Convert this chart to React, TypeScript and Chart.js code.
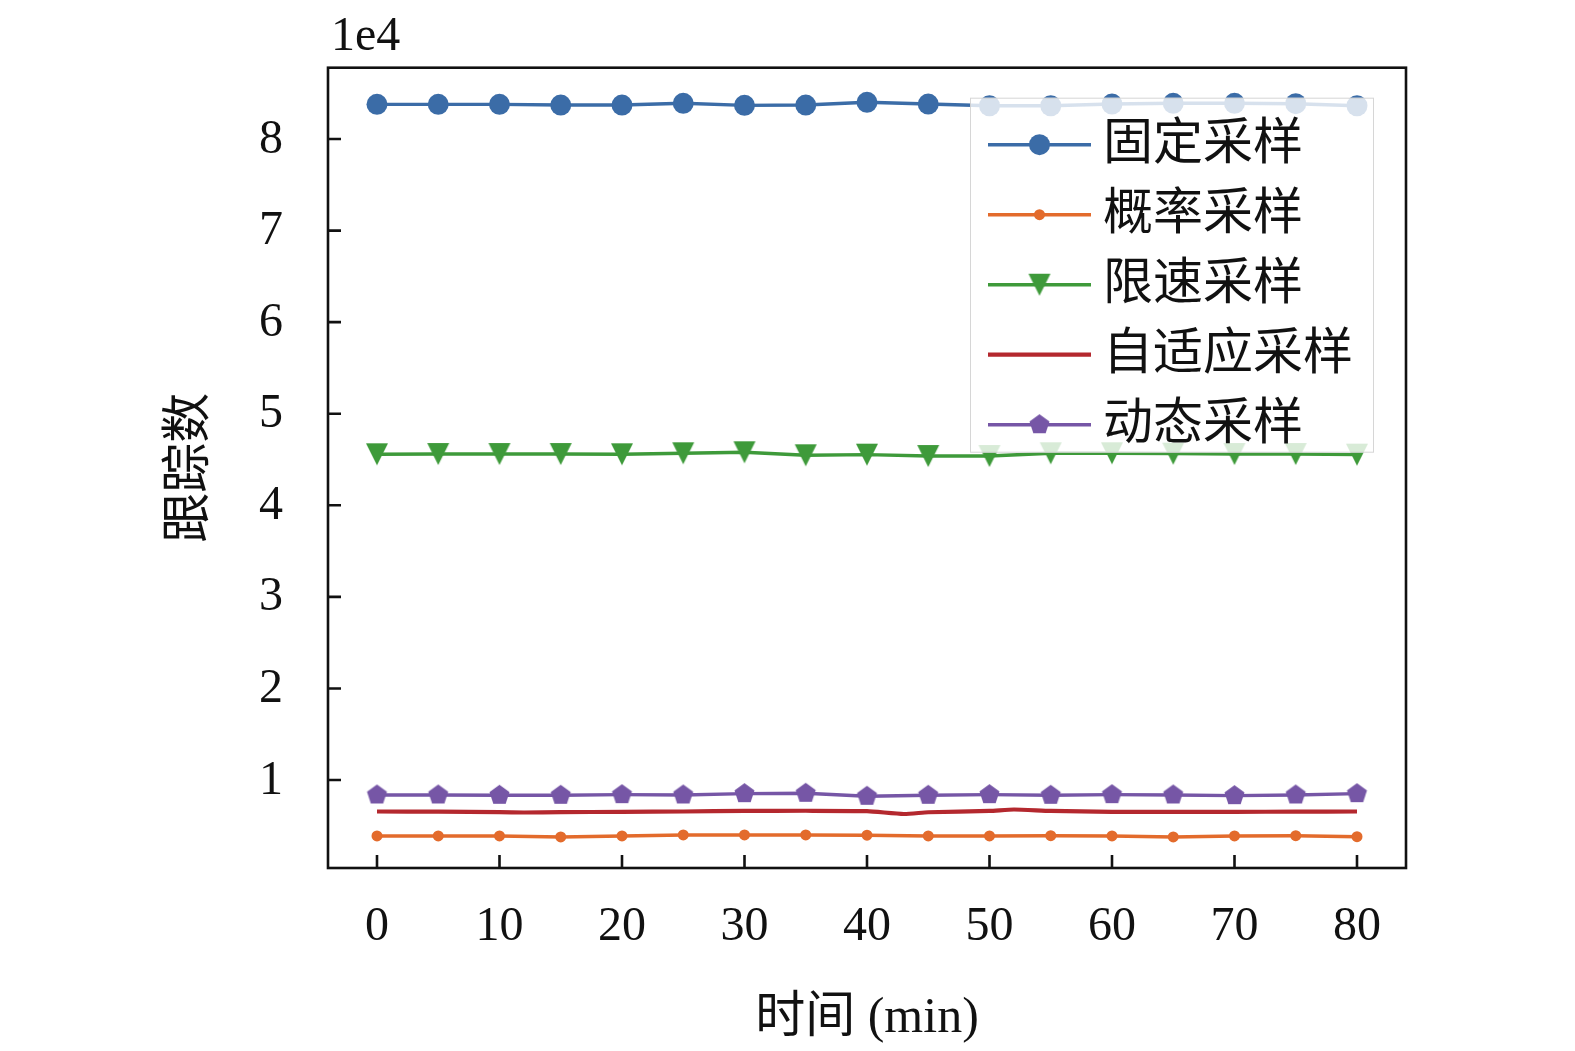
import React, { useEffect, useRef } from 'react';
import { Chart, registerables } from 'chart.js';

Chart.register(...registerables);

// ---- data ----
const times = [0, 5, 10, 15, 20, 25, 30, 35, 40, 45, 50, 55, 60, 65, 70, 75, 80];
const fixedSampling = [83790, 83790, 83790, 83710, 83710, 83900, 83680, 83710, 84010, 83820, 83640, 83640, 83820, 83900, 83900, 83860, 83640];
const probSampling = [3890, 3890, 3890, 3780, 3890, 4000, 4000, 4000, 3970, 3890, 3890, 3920, 3890, 3780, 3890, 3920, 3810];
const rateLimitSampling = [45570, 45600, 45600, 45600, 45570, 45680, 45790, 45460, 45530, 45380, 45380, 45680, 45680, 45640, 45600, 45600, 45530];
const adaptiveTimes = [0, 5, 10, 12, 15, 20, 25, 30, 35, 40, 43, 45, 50, 52, 55, 60, 65, 70, 75, 80];
const adaptiveSampling = [6560, 6540, 6490, 6450, 6490, 6520, 6560, 6620, 6640, 6600, 6290, 6480, 6620, 6780, 6620, 6530, 6510, 6530, 6540, 6560];
const dynamicSampling = [8365, 8365, 8330, 8330, 8400, 8365, 8510, 8550, 8220, 8330, 8400, 8330, 8400, 8365, 8290, 8365, 8510];

const seriesNames = ['固定采样', '概率采样', '限速采样', '自适应采样', '动态采样'];
const seriesColors = ['#3b6ca7', '#e36b2c', '#3e9a3a', '#b4282e', '#7656a6'];
const xTickValues = [0, 10, 20, 30, 40, 50, 60, 70, 80];
const xTickLabels = ['0', '10', '20', '30', '40', '50', '60', '70', '80'];
const yTickValues = [10000, 20000, 30000, 40000, 50000, 60000, 70000, 80000];
const yTickLabels = ['1', '2', '3', '4', '5', '6', '7', '8'];
const xTitle = '时间 (min)';
const yTitle = '跟踪数';
const yExponentLabel = '1e4';

const FONT = "'Liberation Serif', 'Noto Sans CJK SC', serif";
const LINE_W = 3.4;

function makePentagon(r: number, color: string): HTMLCanvasElement {
  const size = Math.ceil(2 * r + 4);
  const c = document.createElement('canvas');
  c.width = size;
  c.height = size;
  const ctx = c.getContext('2d')!;
  const cx = size / 2;
  const cy = size / 2;
  ctx.beginPath();
  for (let i = 0; i < 5; i++) {
    const a = -Math.PI / 2 + (i * 2 * Math.PI) / 5;
    const px = cx + r * Math.cos(a);
    const py = cy + r * Math.sin(a);
    if (i === 0) ctx.moveTo(px, py);
    else ctx.lineTo(px, py);
  }
  ctx.closePath();
  ctx.fillStyle = color;
  ctx.fill();
  return c;
}

function makeTriangleDown(half: number, color: string): HTMLCanvasElement {
  const size = Math.ceil(2 * half + 4);
  const c = document.createElement('canvas');
  c.width = size;
  c.height = size;
  const ctx = c.getContext('2d')!;
  const cx = size / 2;
  const cy = size / 2;
  ctx.beginPath();
  ctx.moveTo(cx - half, cy - half);
  ctx.lineTo(cx + half, cy - half);
  ctx.lineTo(cx, cy + half);
  ctx.closePath();
  ctx.fillStyle = color;
  ctx.fill();
  return c;
}

export default function App() {
  const canvasRef = useRef<HTMLCanvasElement | null>(null);

  useEffect(() => {
    document.body.style.margin = '0';
    const canvas = canvasRef.current;
    if (!canvas) return;

    const triangle = makeTriangleDown(11, seriesColors[2]);
    const pentagon = makePentagon(10.5, seriesColors[4]);

    const toPts = (xs: number[], ys: number[]) => xs.map((x, i) => ({ x, y: ys[i] }));

    const overlay = {
      id: 'overlay',
      afterDraw(chart: any) {
        const ctx: CanvasRenderingContext2D = chart.ctx;
        const area = chart.chartArea;
        const xs = chart.scales.x;
        const ys = chart.scales.y;
        ctx.save();

        // legend box
        const lx0 = area.left + 642;
        const lx1 = area.right - 32;
        const ly0 = area.top + 30;
        const ly1 = area.top + 385;
        ctx.fillStyle = 'rgba(255,255,255,0.8)';
        ctx.fillRect(lx0, ly0, lx1 - lx0, ly1 - ly0);
        ctx.strokeStyle = 'rgba(204,204,204,0.8)';
        ctx.lineWidth = 1;
        ctx.strokeRect(lx0 + 0.5, ly0 + 0.5, lx1 - lx0 - 1, ly1 - ly0 - 1);

        const rowY0 = area.top + 77;
        const rowStep = 70;
        const hx0 = lx0 + 18;
        const hx1 = lx0 + 121;
        const hxm = (hx0 + hx1) / 2;
        seriesNames.forEach((name, i) => {
          const y = rowY0 + i * rowStep;
          ctx.strokeStyle = seriesColors[i];
          ctx.lineWidth = i === 3 ? 4.2 : LINE_W;
          ctx.beginPath();
          ctx.moveTo(hx0, y);
          ctx.lineTo(hx1, y);
          ctx.stroke();
          if (i === 0 || i === 1) {
            ctx.fillStyle = seriesColors[i];
            ctx.beginPath();
            ctx.arc(hxm, y, i === 0 ? 10.5 : 5.5, 0, Math.PI * 2);
            ctx.fill();
          } else if (i === 2) {
            ctx.drawImage(triangle, hxm - triangle.width / 2, y - triangle.height / 2);
          } else if (i === 4) {
            ctx.drawImage(pentagon, hxm - pentagon.width / 2, y - pentagon.height / 2);
          }
          ctx.fillStyle = '#111';
          ctx.font = `50px ${FONT}`;
          ctx.textAlign = 'left';
          ctx.textBaseline = 'middle';
          ctx.fillText(name, lx0 + 133, y + 1);
        });

        // frame
        ctx.strokeStyle = '#111';
        ctx.lineWidth = 2.6;
        ctx.strokeRect(area.left, area.top, area.right - area.left, area.bottom - area.top);

        // inward ticks
        ctx.beginPath();
        xTickValues.forEach((v) => {
          const px = xs.getPixelForValue(v);
          ctx.moveTo(px, area.bottom);
          ctx.lineTo(px, area.bottom - 13);
        });
        yTickValues.forEach((v) => {
          const py = ys.getPixelForValue(v);
          ctx.moveTo(area.left, py);
          ctx.lineTo(area.left + 13, py);
        });
        ctx.stroke();

        // tick labels
        ctx.fillStyle = '#111';
        ctx.font = `48px ${FONT}`;
        ctx.textAlign = 'center';
        ctx.textBaseline = 'middle';
        xTickValues.forEach((v, i) => {
          ctx.fillText(xTickLabels[i], xs.getPixelForValue(v), area.bottom + 59);
        });
        ctx.textAlign = 'right';
        yTickValues.forEach((v, i) => {
          ctx.fillText(yTickLabels[i], area.left - 45, ys.getPixelForValue(v) + 1);
        });

        // exponent label
        ctx.textAlign = 'left';
        ctx.textBaseline = 'alphabetic';
        ctx.fillText(yExponentLabel, area.left + 3, area.top - 18);

        // axis titles
        ctx.font = `50px ${FONT}`;
        ctx.textAlign = 'center';
        ctx.textBaseline = 'middle';
        ctx.fillText(xTitle, (area.left + area.right) / 2, 1019);

        ctx.save();
        ctx.translate(191, (area.top + area.bottom) / 2);
        ctx.rotate(-Math.PI / 2);
        ctx.font = `50px ${FONT}`;
        ctx.textAlign = 'center';
        ctx.textBaseline = 'middle';
        ctx.fillText(yTitle, 0, 0);
        ctx.restore();

        ctx.restore();
      },
    };

    const chart = new Chart(canvas, {
      type: 'line',
      data: {
        datasets: [
          {
            label: seriesNames[0],
            data: toPts(times, fixedSampling),
            borderColor: seriesColors[0],
            backgroundColor: seriesColors[0],
            borderWidth: LINE_W,
            pointStyle: 'circle',
            pointRadius: 10.5,
            pointBorderWidth: 0,
            tension: 0,
          },
          {
            label: seriesNames[1],
            data: toPts(times, probSampling),
            borderColor: seriesColors[1],
            backgroundColor: seriesColors[1],
            borderWidth: LINE_W,
            pointStyle: 'circle',
            pointRadius: 5.5,
            pointBorderWidth: 0,
            tension: 0,
          },
          {
            label: seriesNames[2],
            data: toPts(times, rateLimitSampling),
            borderColor: seriesColors[2],
            backgroundColor: seriesColors[2],
            borderWidth: LINE_W,
            pointStyle: triangle as any,
            pointRadius: 10,
            pointBorderWidth: 0,
            tension: 0,
          },
          {
            label: seriesNames[3],
            data: toPts(adaptiveTimes, adaptiveSampling),
            borderColor: seriesColors[3],
            backgroundColor: seriesColors[3],
            borderWidth: 4.2,
            pointRadius: 0,
            tension: 0.2,
          },
          {
            label: seriesNames[4],
            data: toPts(times, dynamicSampling),
            borderColor: seriesColors[4],
            backgroundColor: seriesColors[4],
            borderWidth: LINE_W,
            pointStyle: pentagon as any,
            pointRadius: 10,
            pointBorderWidth: 0,
            tension: 0,
          },
        ],
      },
      options: {
        animation: false,
        responsive: false,
        devicePixelRatio: 1,
        events: [],
        layout: { padding: { left: 328, right: 169, top: 67.7, bottom: 183 } },
        plugins: { legend: { display: false }, tooltip: { enabled: false } },
        scales: {
          x: {
            type: 'linear',
            display: false,
            min: -4,
            max: 84,
          },
          y: {
            type: 'linear',
            display: false,
            min: 390,
            max: 87790,
          },
        },
      },
      plugins: [overlay],
    });

    return () => {
      chart.destroy();
    };
  }, []);

  return (
    <div style={{ position: 'absolute', left: 0, top: 0, width: 1575, height: 1051, background: '#fff' }}>
      <canvas ref={canvasRef} width={1575} height={1051} style={{ width: 1575, height: 1051, display: 'block' }} />
    </div>
  );
}
